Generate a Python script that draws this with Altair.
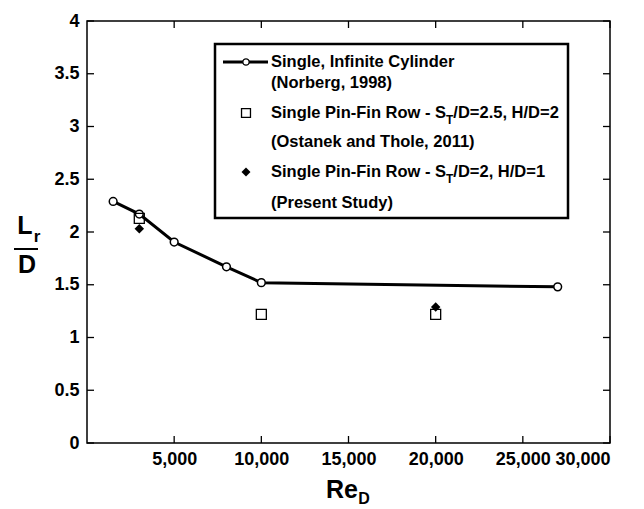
import altair as alt
import pandas as pd

# ---- data ----
norberg_re = [1500, 3000, 5000, 8000, 10000, 27000]
norberg_lr = [2.29, 2.17, 1.905, 1.67, 1.52, 1.48]
ostanek_re = [3000, 10000, 20000]
ostanek_lr = [2.13, 1.22, 1.22]
present_re = [3000, 20000]
present_lr = [2.03, 1.29]
x_ticks = [5000, 10000, 15000, 20000, 25000, 30000]
y_ticks = [0, 0.5, 1, 1.5, 2, 2.5, 3, 3.5, 4]

FONT = "Liberation Sans"
W, H = 523, 422

xs = alt.Scale(domain=[0, 30000], nice=False, zero=False)
ys = alt.Scale(domain=[0, 4], nice=False, zero=False)

df_n = pd.DataFrame({"re": norberg_re, "lr": norberg_lr})
df_o = pd.DataFrame({"re": ostanek_re, "lr": ostanek_lr})
df_p = pd.DataFrame({"re": present_re, "lr": present_lr})
df_xt = pd.DataFrame({"re": x_ticks})
df_yt = pd.DataFrame({"lr": y_ticks})

xaxis = alt.Axis(values=x_ticks, labelExpr="format(datum.value, ',')", ticks=False,
                 domain=False, grid=False,
                 labelFont=FONT, labelFontWeight="bold", labelFontSize=18,
                 labelColor="black", labelPadding=7, title=None)
yaxis = alt.Axis(values=y_ticks, labelExpr="format(datum.value, '~g')", ticks=False,
                 domain=False, grid=False,
                 labelFont=FONT, labelFontWeight="bold", labelFontSize=18,
                 labelColor="black", labelPadding=8, title=None)

X = alt.X("re:Q", scale=xs, axis=xaxis)
Y = alt.Y("lr:Q", scale=ys, axis=yaxis)

line = alt.Chart(df_n).mark_line(color="black", strokeWidth=3).encode(x=X, y=Y)
circles = alt.Chart(df_n).mark_point(shape="circle", filled=True, fill="white",
                                     stroke="black", strokeWidth=1.5, size=60, opacity=1).encode(x=X, y=Y)
squares = alt.Chart(df_o).mark_point(shape="square", filled=False, stroke="black",
                                     strokeWidth=1.3, size=100, opacity=1).encode(x=X, y=Y)
diamonds = alt.Chart(df_p).mark_point(shape="diamond", filled=True, color="black",
                                      size=90, opacity=1).encode(x=X, y=Y)

TL = 7
xt_bot = alt.Chart(df_xt).mark_rule(color="black", strokeWidth=1.3).encode(
    x=X, y=alt.value(H), y2=alt.value(H - TL))
xt_top = alt.Chart(df_xt).mark_rule(color="black", strokeWidth=1.3).encode(
    x=X, y=alt.value(0), y2=alt.value(TL))
yt_left = alt.Chart(df_yt).mark_rule(color="black", strokeWidth=1.3).encode(
    y=Y, x=alt.value(0), x2=alt.value(TL))
yt_right = alt.Chart(df_yt).mark_rule(color="black", strokeWidth=1.3).encode(
    y=Y, x=alt.value(W), x2=alt.value(W - TL))

one = pd.DataFrame({"a": [0]})

def txt(s, x, y, size=15, align="left", baseline="middle"):
    return alt.Chart(one).mark_text(text=s, font=FONT, fontWeight="bold", fontSize=size,
                                    color="black", align=align, baseline=baseline).encode(
        x=alt.value(x), y=alt.value(y))

# Arial/Liberation Sans Bold advance widths (per 1000 em) for layout of sub-scripts
AW = {" ": 278, "-": 333, "/": 278, "=": 584, ".": 278, ",": 278, "(": 333, ")": 333,
      "S": 667, "i": 278, "n": 611, "g": 611, "l": 278, "e": 556, "P": 667, "F": 611,
      "R": 722, "o": 611, "w": 778, "D": 722, "H": 722, "T": 611}
for d in "0123456789":
    AW[d] = 556

def tw(s, size):
    return sum(AW.get(c, 556) for c in s) * size / 1000.0

# ---- custom legend (positions relative to plot origin) ----
FS = 16.5
TX = 184
ROWS = [41, 62, 92, 121, 151, 182]
LX0, LX1, LY0, LY1 = 128, 481, 23, 197
legend_box = alt.Chart(one).mark_rect(fill="white", stroke="black", strokeWidth=2.5).encode(
    x=alt.value(LX0), x2=alt.value(LX1), y=alt.value(LY0), y2=alt.value(LY1))
leg_line = alt.Chart(one).mark_rule(color="black", strokeWidth=3).encode(
    x=alt.value(136), x2=alt.value(181), y=alt.value(ROWS[0]))
leg_circle = alt.Chart(one).mark_point(shape="circle", filled=True, fill="white", stroke="black",
                                       strokeWidth=1.3, size=40, opacity=1).encode(
    x=alt.value(159), y=alt.value(ROWS[0]))
leg_square = alt.Chart(one).mark_point(shape="square", filled=False, stroke="black",
                                       strokeWidth=1.3, size=80, opacity=1).encode(
    x=alt.value(159), y=alt.value(ROWS[2]))
leg_diamond = alt.Chart(one).mark_point(shape="diamond", filled=True, color="black",
                                        size=80, opacity=1).encode(
    x=alt.value(159), y=alt.value(ROWS[4]))

def sub_line(pre, sub, post, y):
    sfs = FS * 0.72
    w1 = tw(pre, FS)
    w2 = tw(sub, sfs)
    return [txt(pre, TX, y, FS), txt(sub, TX + w1, y + 7, sfs),
            txt(post, TX + w1 + w2, y, FS)]

legend_layers = [legend_box, leg_line, leg_circle, leg_square, leg_diamond,
                 txt("Single, Infinite Cylinder", TX, ROWS[0], FS),
                 txt("(Norberg, 1998)", TX, ROWS[1], FS)]
legend_layers += sub_line("Single Pin-Fin Row - S", "T", "/D=2.5, H/D=2", ROWS[2])
legend_layers += [txt("(Ostanek and Thole, 2011)", TX, ROWS[3], FS)]
legend_layers += sub_line("Single Pin-Fin Row - S", "T", "/D=2, H/D=1", ROWS[4])
legend_layers += [txt("(Present Study)", TX, ROWS[5], FS)]

# ---- axis titles with sub-scripts ----
titles = [
    txt("L", -62, 205, 25, align="center"),
    txt("r", -50, 216, 17, align="center"),
    alt.Chart(one).mark_rule(color="black", strokeWidth=2).encode(
        x=alt.value(-73), x2=alt.value(-49), y=alt.value(228)),
    txt("D", -60, 244, 25, align="center"),
    txt("Re", 255, 469, 25, align="center"),
    txt("D", 277, 478, 16, align="center"),
]

chart = alt.layer(
    line, circles, squares, diamonds, xt_bot, xt_top, yt_left, yt_right,
    *legend_layers, *titles
).properties(
    width=W, height=H,
    autosize=alt.AutoSizeParams(type="none"),
    padding={"left": 87, "top": 21, "right": 34, "bottom": 66},
    background="white",
).configure_view(stroke="black", strokeWidth=1.5)

chart.save("out.html", embed_options={"renderer": "svg", "actions": False})
